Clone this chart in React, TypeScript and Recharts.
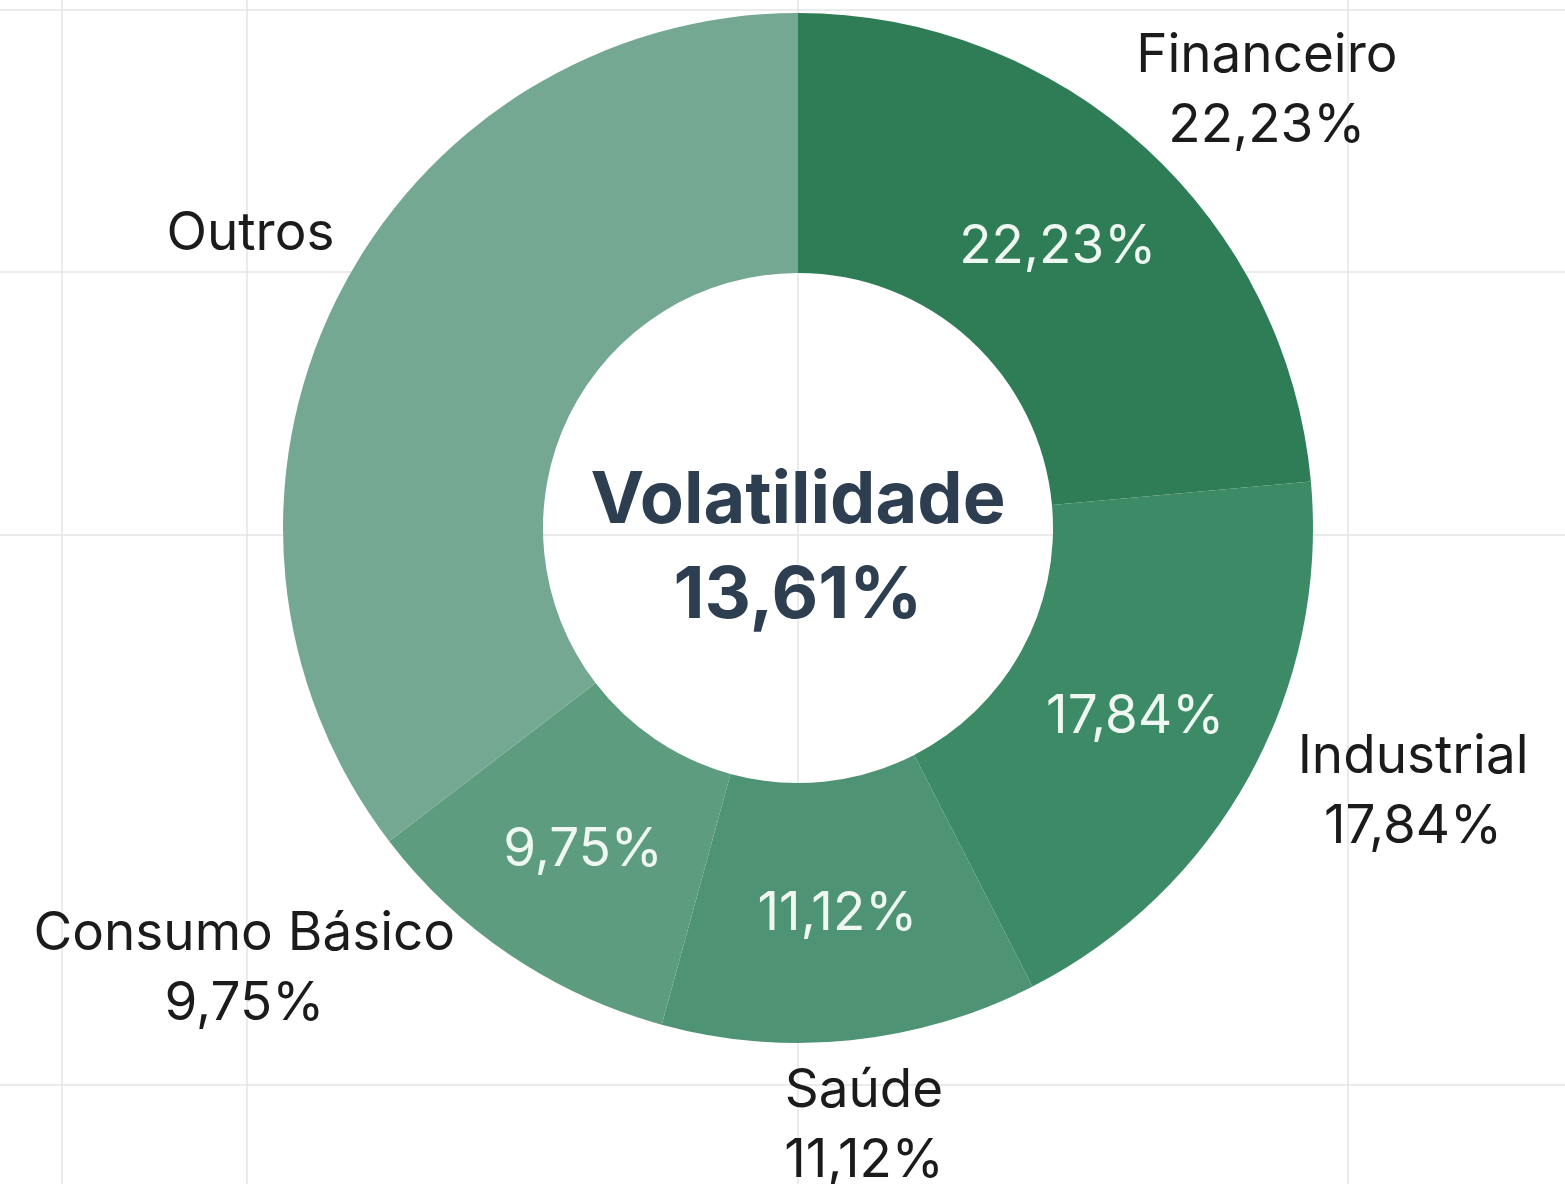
import { PieChart, Pie, Cell } from "recharts";

const SECTORS = ["Financeiro", "Industrial", "Saúde", "Consumo Básico", "Outros"];
const WEIGHTS = [22.23, 17.84, 11.12, 9.75, 33.4];
const SHOW_VALUE = [true, true, true, true, false];
const COLORS = ["#2e7d56", "#3d8a66", "#4e9474", "#5e9c7f", "#75a893"];
const CENTER_TITLE = "Volatilidade";
const CENTER_VALUE = "13,61%";

const W = 1565;
const H = 1184;
const CX = 798;
const CY = 528;
const FONT = "Inter, 'Noto Sans', sans-serif";

// background grid lines
const GRID_X = [62, 247, 798, 1348];
const GRID_Y = [10, 272, 535, 1085];

// outer label spot: clock angle (deg, clockwise from 12h) and distance from centre
const OUTER_LABELS = [
  { angle: 45.8, radius: 654 },
  { angle: 111.7, radius: 662 },
  { angle: 173.5, radius: 583 },
  { angle: 232.7, radius: 696 },
  { angle: 296.9, radius: 614 },
];

const RADIAN = Math.PI / 180;
const fmt = (v: number) => v.toFixed(2).replace(".", ",") + "%";

const data = SECTORS.map((name, i) => ({ name, value: WEIGHTS[i] }));

function renderLabel(props: any) {
  const { cx, cy, midAngle, innerRadius, outerRadius, index, value, name } = props;
  const mid = (innerRadius + outerRadius) / 2;
  const ix = cx + mid * Math.cos(-midAngle * RADIAN);
  const iy = cy + mid * Math.sin(-midAngle * RADIAN);
  const pos = OUTER_LABELS[index];
  const ox = cx + pos.radius * Math.sin(pos.angle * RADIAN);
  const oy = cy - pos.radius * Math.cos(pos.angle * RADIAN);
  const show = SHOW_VALUE[index];
  return (
    <g key={`lbl-${index}`}>
      {show && (
        <text x={ix} y={iy} fill="#eef7f1" fontSize={53} fontFamily={FONT} textAnchor="middle" dominantBaseline="central">
          {fmt(value)}
        </text>
      )}
      <text x={ox} y={oy} fill="#1b1b1b" fontSize={53} fontFamily={FONT} textAnchor="middle">
        <tspan x={ox}>{name}</tspan>
        {show && <tspan x={ox} dy={70}>{fmt(value)}</tspan>}
      </text>
    </g>
  );
}

export default function App() {
  return (
    <div style={{ position: "fixed", left: 0, top: 0, width: W, height: H, background: "#fff", overflow: "hidden" }}>
      <svg width={W} height={H} style={{ position: "absolute", left: 0, top: 0 }}>
        {GRID_X.map((x) => (
          <line key={`gx-${x}`} x1={x} x2={x} y1={0} y2={H} stroke="#e4e4e4" strokeWidth={1.5} />
        ))}
        {GRID_Y.map((y) => (
          <line key={`gy-${y}`} x1={0} x2={W} y1={y} y2={y} stroke="#e4e4e4" strokeWidth={1.5} />
        ))}
      </svg>
      <div style={{ position: "absolute", left: 0, top: 0 }}>
        <PieChart width={W} height={H} margin={{ top: 0, right: 0, bottom: 0, left: 0 }}>
          <Pie
            data={data}
            dataKey="value"
            nameKey="name"
            cx={CX}
            cy={CY}
            innerRadius={255}
            outerRadius={515}
            startAngle={90}
            endAngle={-270}
            stroke="none"
            labelLine={false}
            label={renderLabel}
            isAnimationActive={false}
          >
            {data.map((d, i) => (
              <Cell key={`cell-${i}`} fill={COLORS[i]} />
            ))}
          </Pie>
        </PieChart>
      </div>
      <svg width={W} height={H} style={{ position: "absolute", left: 0, top: 0, pointerEvents: "none" }}>
        <text x={CX} y={523} textAnchor="middle" fontFamily={FONT} fontSize={72} fontWeight={700} fill="#2c3e50">
          {CENTER_TITLE}
        </text>
        <text x={CX} y={618} textAnchor="middle" fontFamily={FONT} fontSize={72} fontWeight={700} fill="#2c3e50">
          {CENTER_VALUE}
        </text>
      </svg>
    </div>
  );
}
